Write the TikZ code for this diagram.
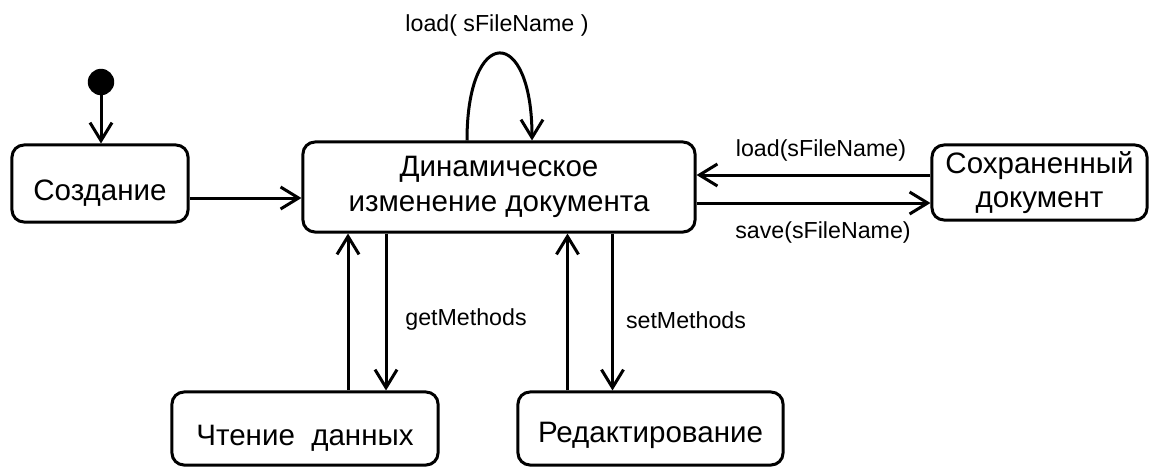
\documentclass[tikz,border=0pt]{standalone}
\usepackage{fontspec}
\setmainfont{Liberation Sans}
\usepackage{tikz}
\usetikzlibrary{arrows.meta, positioning}

\begin{document}
\begin{tikzpicture}[
    x=0.025cm, y=-0.025cm,
    state/.style={rectangle, draw, rounded corners=0.3cm, line width=0.075cm, align=center, font=\fontsize{21}{24.5}\selectfont},
    lowtext/.style={text height=#1, text depth=0pt},
    msg/.style={font=\fontsize{16.5}{19}\selectfont},
    arrow/.style={-{Straight Barb[length=0.45cm, width=0.55cm]}, line width=0.075cm}
]
    \useasboundingbox (0,0) rectangle (1150,468);

    \node[circle, fill, inner sep=0pt, minimum size=0.66cm] (init) at (101,82) {};
    \node[state, lowtext=0.83cm, minimum width=4.4cm, minimum height=1.925cm] (create) at (100,183.5) {Создание};
    \node[state, minimum width=9.8cm, minimum height=2.25cm] (dyn) at (499,187) {Динамическое \\ изменение документа};
    \node[state, minimum width=5.375cm, minimum height=1.875cm] (saved) at (1039.5,182.5) {Сохраненный \\ документ};
    \node[state, lowtext=0.83cm, minimum width=6.65cm, minimum height=1.825cm] (read) at (305,428.5) {Чтение~~данных};
    \node[state, lowtext=0.7cm, minimum width=6.625cm, minimum height=1.825cm] (edit) at (650.5,428.5) {Редактирование};

    \node[msg] (loopmsg) at (497,25) {load( sFileName )};
    \node[msg] (loadmsg) at (821,150) {load(sFileName)};
    \node[msg] (savemsg) at (823,232) {save(sFileName)};
    \node[msg] (getmsg) at (466,319) {getMethods};
    \node[msg] (setmsg) at (686,320) {setMethods};

    \draw[arrow] (init) -- (init |- create.north);
    \draw[arrow] ([yshift=-0.3625cm]create.east) -- ([yshift=-0.3625cm]create.east -| dyn.west);
    \draw[arrow] ([xshift=-0.8cm]dyn.north) .. controls +(0cm,2.9cm) and +(0cm,2.9cm) .. ([xshift=0.825cm]dyn.north);
    \draw[arrow] ([yshift=0.3cm]dyn.east -| saved.west) -- ([yshift=0.3cm]dyn.east);
    \draw[arrow] ([yshift=-0.4cm]dyn.east) -- ([yshift=-0.4cm]dyn.east -| saved.west);
    \draw[arrow] ([xshift=1.075cm]read.north) -- ([xshift=1.075cm]read.north |- dyn.south);
    \draw[arrow] ([xshift=2.025cm]read.north |- dyn.south) -- ([xshift=2.025cm]read.north);
    \draw[arrow] ([xshift=-2.075cm]edit.north) -- ([xshift=-2.075cm]edit.north |- dyn.south);
    \draw[arrow] ([xshift=-0.95cm]edit.north |- dyn.south) -- ([xshift=-0.95cm]edit.north);
\end{tikzpicture}
\end{document}
